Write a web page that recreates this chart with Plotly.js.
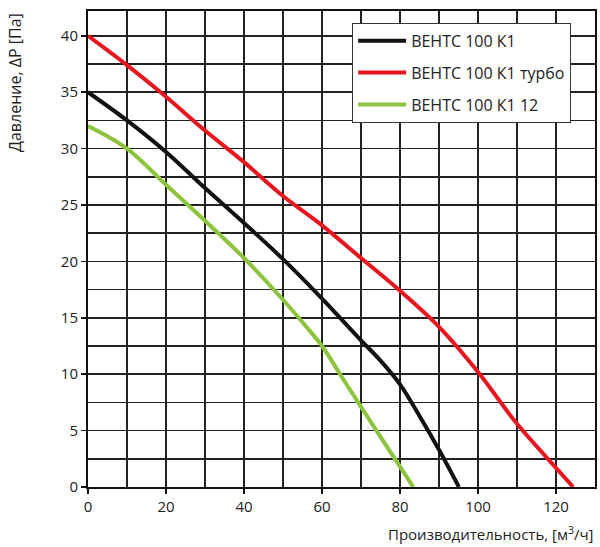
<!DOCTYPE html>
<html>
<head>
<meta charset="utf-8">
<script src="https://cdn.plot.ly/plotly-3.0.1.min.js"></script>
<style>html,body{margin:0;padding:0;background:#fff;}#chart{width:600px;height:547px;}</style>
</head>
<body>
<div id="chart"></div>
<script>
// Series: ВЕНТС 100 К1
const k1X = [0, 10, 20, 30, 40, 50, 60, 70, 75, 80, 85, 90, 95.1];
const k1Y = [35, 32.5, 29.7, 26.5, 23.4, 20.2, 16.7, 13.0, 11.2, 9.1, 6.3, 3.3, 0];
// Series: ВЕНТС 100 К1 турбо
const turboX = [0, 10, 20, 30, 40, 50, 60, 70, 80, 90, 100, 110, 120, 124.4];
const turboY = [40, 37.4, 34.6, 31.6, 28.8, 25.8, 23.2, 20.3, 17.4, 14.2, 10.2, 5.6, 1.7, 0];
// Series: ВЕНТС 100 К1 12
const k12X = [0, 10, 20, 30, 40, 50, 55, 60, 65, 70, 80, 83.4];
const k12Y = [32, 30, 26.8, 23.6, 20.3, 16.6, 14.6, 12.5, 9.8, 7.1, 1.8, 0];

const seriesNames = ['ВЕНТС 100 К1', 'ВЕНТС 100 К1 турбо', 'ВЕНТС 100 К1 12'];
const xTitle = 'Производительность, [м<sup>3</sup>/ч]';
const yTitle = 'Давление, ΔP [Па]';

const FONT = '"Open Sans", "Noto Sans", sans-serif';

const traces = [
  {x: k1X, y: k1Y, name: seriesNames[0], legendgroup: 'a', mode: 'lines', line: {color: '#111111', width: 4, shape: 'spline', smoothing: 1}},
  {x: turboX, y: turboY, name: seriesNames[1], legendgroup: 'b', mode: 'lines', line: {color: '#e8161e', width: 4, shape: 'spline', smoothing: 1}},
  {x: k12X, y: k12Y, name: seriesNames[2], legendgroup: 'c', mode: 'lines', line: {color: '#8dc33d', width: 4, shape: 'spline', smoothing: 1}}
];

const layout = {
  width: 600, height: 547,
  margin: {l: 88, r: 5, t: 11, b: 60},
  paper_bgcolor: '#ffffff', plot_bgcolor: '#ffffff',
  font: {family: FONT, size: 15, color: '#222222'},
  showlegend: true,
  legend: {
    x: 0.521, y: 0.975, xanchor: 'left', yanchor: 'top',
    bgcolor: '#ffffff', bordercolor: '#333333', borderwidth: 1,
    font: {family: FONT, size: 16, color: '#222222'},
    traceorder: 'grouped', tracegroupgap: 8,
    itemwidth: 48,
    entrywidth: 231, entrywidthmode: 'pixels'
  },
  xaxis: {
    range: [0, 130], dtick: 20, tick0: 0,
    showgrid: true, gridcolor: '#222222', gridwidth: 1.5,
    minor: {dtick: 10, showgrid: true, gridcolor: '#222222', gridwidth: 1.5},
    zeroline: false,
    showline: true, mirror: true, linecolor: '#111111', linewidth: 2,
    ticks: 'outside', ticklen: 5, tickwidth: 1.5, tickcolor: '#111111',
    tickfont: {family: FONT, size: 15, color: '#222222'},
    fixedrange: true
  },
  yaxis: {
    range: [0, 42.2], dtick: 5, tick0: 0,
    showgrid: true, gridcolor: '#222222', gridwidth: 1.5,
    minor: {dtick: 2.5, showgrid: true, gridcolor: '#222222', gridwidth: 1.5},
    zeroline: false,
    showline: true, mirror: true, linecolor: '#111111', linewidth: 2,
    ticks: 'outside', ticklen: 5, tickwidth: 1.5, tickcolor: '#111111',
    tickfont: {family: FONT, size: 15, color: '#222222'},
    fixedrange: true
  },
  annotations: [
    {text: yTitle, xref: 'paper', yref: 'paper', x: -0.145, y: 1.0, xanchor: 'center', yanchor: 'top',
     textangle: -90, showarrow: false, font: {family: FONT, size: 16, color: '#222222'}},
    {text: xTitle, xref: 'paper', yref: 'paper', x: 1.0, y: -0.097, xanchor: 'right', yanchor: 'middle',
     showarrow: false, font: {family: FONT, size: 15, color: '#222222'}}
  ]
};

Plotly.newPlot('chart', traces, layout, {displayModeBar: false, staticPlot: true});
</script>
</body>
</html>
